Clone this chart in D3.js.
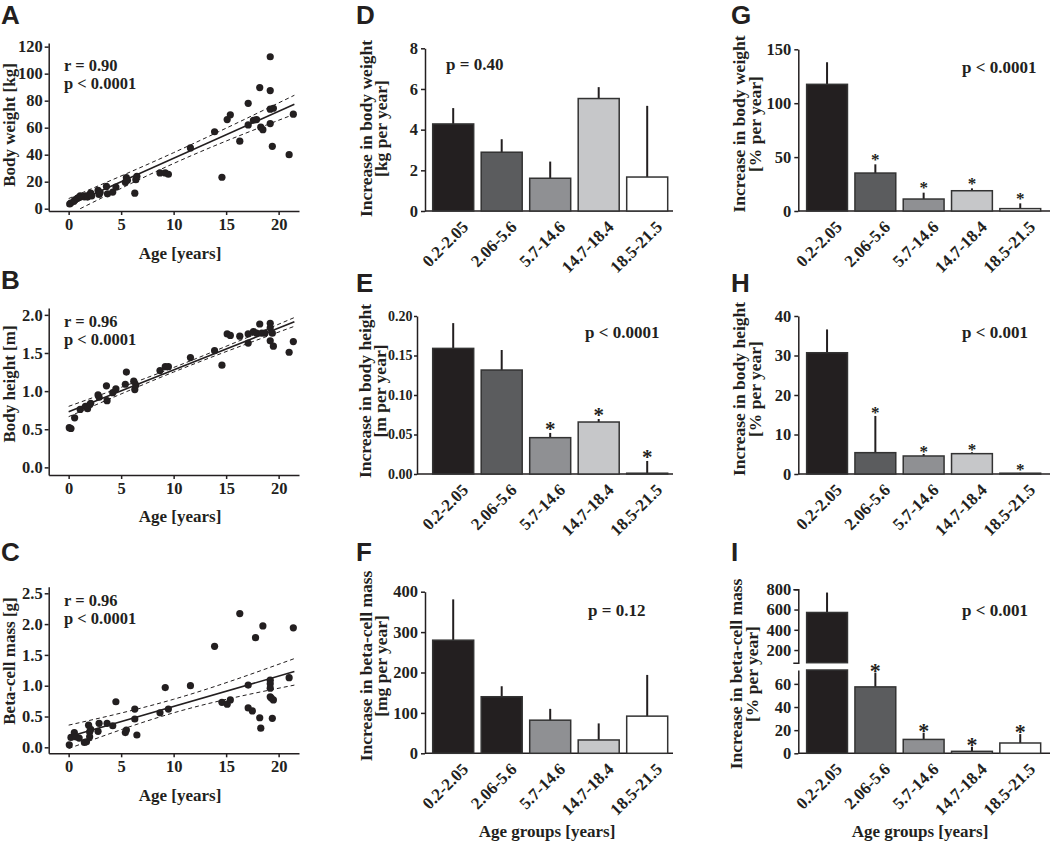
<!DOCTYPE html>
<html><head><meta charset="utf-8">
<script src="https://cdn.jsdelivr.net/npm/d3@7"></script>
<style>
body{margin:0;background:#fff;}
svg{display:block;}
text{font-family:'Liberation Serif','Times New Roman',serif;font-weight:bold;fill:#231f20;}
.letter{font-family:'Liberation Sans',Arial,sans-serif;font-weight:bold;font-size:26px;}
</style></head>
<body>
<svg id="fig" width="1050" height="841"></svg>
<script>
// ---------------- DATA ----------------
// Panel A: age [years] vs body weight [kg]
const ageA = [0.1,0.2,0.5,0.6,0.8,1.0,1.1,1.5,1.6,1.8,2.0,2.1,2.2,2.8,2.9,3.0,3.6,3.7,4.2,4.5,5.4,5.5,5.6,6.3,6.4,6.5,8.7,9.2,9.5,11.6,13.9,14.6,15.1,15.4,16.3,17.1,17.1,17.6,17.9,18.2,18.3,18.5,19.2,19.2,19.2,19.2,19.4,19.5,21.0,21.4];
const weightA = [3.5,4.2,5.5,6.5,7.5,8.5,9.5,8.8,9.6,8.6,10.5,11.5,9.5,13.5,10.5,12.0,16.5,11.0,12.3,16.0,19.5,23.0,21.0,11.5,21.5,24.0,26.5,26.5,25.5,45,57,23.3,66,69.5,50,78,62,65.5,66,89.7,60.4,58.5,112.5,87.5,73.7,63,46.2,74.4,40,70];
const fitA = [[0,2.5],[21.5,77.4]];
const upperA = [[0,7.5],[10,41.5],[21.5,84]];
const lowerA = [[1.1,0],[10,33.5],[21.5,70]];
const statsA = ["r = 0.90","p < 0.0001"];
const ticksAy = [0,20,40,60,80,100,120];

// Panel B: age vs body height [m]
const ageB = [0.06,0.22,0.57,1.1,1.6,1.8,2.0,2.1,2.8,2.9,3.6,3.66,4.2,4.5,5.4,5.5,6.2,6.3,6.4,8.7,9.2,9.5,11.6,13.9,14.6,15.1,15.4,16.3,17.1,17.1,17.6,17.9,18.2,18.4,18.7,19.2,19.2,19.2,19.4,19.5,21.0,21.4];
const heightB = [0.52,0.51,0.65,0.76,0.80,0.77,0.82,0.84,0.95,0.92,1.07,0.875,0.98,1.03,1.09,1.25,1.13,1.02,1.08,1.27,1.32,1.32,1.44,1.53,1.34,1.75,1.73,1.72,1.75,1.63,1.78,1.76,1.88,1.76,1.76,1.89,1.83,1.66,1.76,1.59,1.51,1.65];
const fitB = [[0,0.73],[21.5,1.91]];
const upperB = [[0,0.80],[10,1.31],[21.5,1.965]];
const lowerB = [[0,0.665],[10,1.25],[21.5,1.85]];
const statsB = ["r = 0.96","p < 0.0001"];
const ticksBy = [0,0.5,1.0,1.5,2.0];

// Panel C: age vs beta-cell mass [g]
const ageC = [0.06,0.22,0.54,0.7,1.0,1.5,1.7,1.9,2.0,2.0,2.1,2.8,2.9,3.66,4.2,4.5,5.4,5.5,6.3,6.3,6.5,8.7,9.2,9.5,11.6,13.9,14.6,15.1,15.4,16.3,17.1,17.1,17.5,17.8,18.2,18.3,18.5,19.2,19.2,19.2,19.2,19.3,19.4,19.5,21.0,21.4];
const massC = [0.04,0.16,0.24,0.17,0.15,0.08,0.09,0.36,0.25,0.17,0.29,0.26,0.39,0.39,0.35,0.74,0.24,0.28,0.62,0.46,0.20,0.56,0.97,0.62,1.0,1.64,0.73,0.70,0.77,2.17,1.01,0.64,0.59,1.78,0.48,0.31,1.97,1.09,1.03,0.96,0.82,0.80,0.47,0.77,1.13,1.94];
const fitC = [[0,0.17],[21.5,1.23]];
const upperC = [[0,0.36],[10,0.78],[21.5,1.44]];
const lowerC = [[0,-0.02],[10,0.56],[21.5,1.01]];
const statsC = ["r = 0.96","p < 0.0001"];
const ticksCy = [0,0.5,1.0,1.5,2.0,2.5];
const ageTicks = [0,5,10,15,20];

// Bar panels
const groups = ["0.2-2.05","2.06-5.6","5.7-14.6","14.7-18.4","18.5-21.5"];
const valD = [4.28,2.89,1.61,5.53,1.67];
const errD = [5.06,3.53,2.43,6.09,5.17];
const starD = [false,false,false,false,false];
const valE = [0.159,0.1316,0.046,0.0658,0.001];
const errE = [0.191,0.157,0.052,0.0696,0.0165];
const starE = [false,false,true,true,true];
const valF = [280,140,82,33,92];
const errF = [381,166,110,74,194];
const starF = [false,false,false,false,false];
const valG = [117.5,35.2,11.1,18.8,2.2];
const errG = [138,43.3,17,21,7.1];
const starG = [false,true,true,true,true];
const valH = [30.7,5.4,4.56,5.15,0.2];
const errH = [36.6,14.7,5.06,5.5,0.3];
const starH = [false,true,true,true,true];
const valI = [571,57.4,12,1.7,8.9];
const errI = [768,69.8,17.8,5.7,16.6];
const starI = [false,true,true,true,true];
const ticksD = [0,2,4,6,8];
const ticksE = [0,0.05,0.10,0.15,0.20];
const ticksF = [0,100,200,300,400];
const ticksG = [0,50,100,150];
const ticksH = [0,10,20,30,40];
const ticksIlow = [0,20,40,60];
const ticksIup = [200,400,600,800];

// styles
const barColors = ["#231f20","#5b5c5e","#8f9093","#c6c7c9","#ffffff"];
const barColorsF = ["#231f20","#231f20","#8f9093","#c6c7c9","#ffffff"];
const ink = "#231f20";

// ---------------- DRAW ----------------
const svg = d3.select("#fig");

function letter(t,x,y){ svg.append("text").attr("class","letter").attr("x",x).attr("y",y).text(t); }

function styleAxis(g,fs){
  g.selectAll("path,line").attr("stroke",ink).attr("stroke-width",1.5);
  g.selectAll("text").style("font-size",(fs||16)+"px").attr("fill",ink);
}

function scatter(o){
  const g = svg.append("g");
  const x = d3.scaleLinear().domain([-1.9,21.94]).range([o.xLeft,o.xLeft+250.3]);
  const y = d3.scaleLinear().domain(o.yDom).range(o.yRange);
  const ax = g.append("g").attr("transform",`translate(0,${o.yRange[0]})`)
    .call(d3.axisBottom(x).tickValues(ageTicks).tickSize(4).tickSizeOuter(0).tickPadding(3));
  styleAxis(ax,16.5);
  const ay = g.append("g").attr("transform",`translate(${o.xLeft},0)`)
    .call(d3.axisLeft(y).tickValues(o.yTicks).tickSize(4).tickSizeOuter(0).tickPadding(2).tickFormat(o.fmt));
  styleAxis(ay,16.5);
  const line = d3.line().x(d=>x(d[0])).y(d=>y(d[1]));
  const dline = d3.line().curve(d3.curveMonotoneX).x(d=>x(d[0])).y(d=>y(d[1]));
  g.append("path").attr("d",dline(o.up)).attr("fill","none").attr("stroke",ink).attr("stroke-width",1).attr("stroke-dasharray","4,3");
  g.append("path").attr("d",dline(o.lo)).attr("fill","none").attr("stroke",ink).attr("stroke-width",1).attr("stroke-dasharray","4,3");
  g.append("path").attr("d",line(o.fit)).attr("fill","none").attr("stroke",ink).attr("stroke-width",1.6);
  g.selectAll("circle.pt").data(d3.zip(o.xs,o.ys)).join("circle")
    .attr("cx",d=>x(d[0])).attr("cy",d=>y(d[1])).attr("r",3.6).attr("fill",ink);
  g.append("text").attr("x",64).attr("y",o.statY-1).style("font-size","16.5px").text(o.stats[0]);
  g.append("text").attr("x",64).attr("y",o.statY+17).style("font-size","16.5px").text(o.stats[1]);
  g.append("text").attr("x",180).attr("y",o.titleY).attr("text-anchor","middle").style("font-size","17px").text("Age [years]");
  g.append("text").attr("transform",`translate(14.5,${o.labY}) rotate(-90)`).attr("text-anchor","middle").style("font-size","17px").text(o.ylab);
}

scatter({xLeft:48.7,yDom:[-1.7,122.7],yRange:[211,43],yTicks:ticksAy,fmt:d3.format("d"),
  xs:ageA,ys:weightA,fit:fitA,up:upperA,lo:lowerA,stats:statsA,statY:71.7,titleY:258.5,labY:125,ylab:"Body weight [kg]"});
scatter({xLeft:48.7,yDom:[-0.1,2.09],yRange:[475,308],yTicks:ticksBy,fmt:d3.format(".1f"),
  xs:ageB,ys:heightB,fit:fitB,up:upperB,lo:lowerB,stats:statsB,statY:328.3,titleY:521.5,labY:384,ylab:"Body height [m]"});
scatter({xLeft:48.7,yDom:[-0.097,2.607],yRange:[753.3,586.7],yTicks:ticksCy,fmt:d3.format(".1f"),
  xs:ageC,ys:massC,fit:fitC,up:upperC,lo:lowerC,stats:statsC,statY:607.3,titleY:800.5,labY:661,ylab:"Beta-cell mass [g]"});

function bars(o){
  const g = svg.append("g");
  const x = d3.scaleBand().domain(groups).range(o.band).paddingInner(0.1546).paddingOuter(0.0773);
  const y = d3.scaleLinear().domain(o.yDom).range(o.yRange);
  const base = o.yRange[0];
  g.append("line").attr("x1",o.yAxisX).attr("x2",o.xEnd).attr("y1",base).attr("y2",base).attr("stroke",ink).attr("stroke-width",1.5);
  const ay = g.append("g").attr("transform",`translate(${o.yAxisX},0)`)
    .call(d3.axisLeft(y).tickValues(o.ticks).tickSize(o.tickLen||4).tickSizeOuter(0).tickPadding(o.tickPad||3).tickFormat(o.fmt));
  styleAxis(ay,o.tickFs);
  const rows = groups.map((c,i)=>({c,v:o.val[i],e:o.err[i],s:o.star[i],col:o.colors[i]}));
  g.selectAll("line.err").data(rows).join("line")
    .attr("x1",d=>x(d.c)+x.bandwidth()/2).attr("x2",d=>x(d.c)+x.bandwidth()/2)
    .attr("y1",d=>y(d.v)).attr("y2",d=>y(d.e)).attr("stroke",ink).attr("stroke-width",2);
  g.selectAll("rect.bar").data(rows).join("rect")
    .attr("x",d=>x(d.c)).attr("width",x.bandwidth())
    .attr("y",d=>y(d.v)).attr("height",d=>Math.max(0.5,base-y(d.v)))
    .attr("fill",d=>d.col).attr("stroke","#333").attr("stroke-width",1.5);
  g.selectAll("text.star").data(rows.filter(d=>d.s)).join("text")
    .attr("x",d=>x(d.c)+x.bandwidth()/2).attr("y",d=>y(d.e)+o.starDy).attr("text-anchor","middle")
    .style("font-size",o.starSize+"px").text("*");
  g.selectAll("text.cat").data(groups).join("text")
    .attr("transform",d=>`translate(${x(d)+x.bandwidth()/2+16},${base+17}) rotate(-45)`)
    .attr("text-anchor","end").style("font-size","17px").text(d=>d);
  g.append("text").attr("x",o.pX).attr("y",o.pY).style("font-size","17px").text(o.p);
  g.append("text").attr("transform",`translate(${o.labX[0]},${o.labY}) rotate(-90)`).attr("text-anchor","middle").style("font-size","17.5px").text(o.lab[0]);
  g.append("text").attr("transform",`translate(${o.labX[1]},${o.labY}) rotate(-90)`).attr("text-anchor","middle").style("font-size","17.5px").text(o.lab[1]);
  if(o.xtitle) g.append("text").attr("x",o.xtitleX).attr("y",836.5).attr("text-anchor","middle").style("font-size","17px").text(o.xtitle);
}

const bandMid = [428.95,671.45];
const bandRight = [802.9,1044.4];

bars({band:bandMid,yAxisX:425,xEnd:673,yDom:[0,8],yRange:[211,48.3],ticks:ticksD,fmt:d3.format("d"),tickFs:16.5,
  val:valD,err:errD,star:starD,colors:barColors,starDy:0,starSize:20,p:"p = 0.40",pX:446,pY:70,
  lab:["Increase in body weight","[kg per year]"],labX:[371.5,386.5],labY:128.5});
bars({band:bandMid,yAxisX:417,xEnd:673,yDom:[0,0.2],yRange:[474,316],ticks:ticksE,fmt:d3.format(".2f"),tickFs:14,tickLen:3,tickPad:1.5,
  val:valE,err:errE,star:starE,colors:barColors,starDy:3,starSize:21,p:"p < 0.0001",pX:585,pY:337.5,
  lab:["Increase in body height","[m per year]"],labX:[371,386],labY:391});
bars({band:bandMid,yAxisX:425,xEnd:673,yDom:[0,400],yRange:[753.3,591.7],ticks:ticksF,fmt:d3.format("d"),tickFs:16.5,
  val:valF,err:errF,star:starF,colors:barColorsF,starDy:0,starSize:20,p:"p = 0.12",pX:588,pY:616,
  lab:["Increase in beta-cell mass","[mg per year]"],labX:[372,387],labY:666,xtitle:"Age groups [years]",xtitleX:547});
bars({band:bandRight,yAxisX:798.3,xEnd:1050,yDom:[0,150],yRange:[211,49.3],ticks:ticksG,fmt:d3.format("d"),tickFs:16.5,
  val:valG,err:errG,star:starG,colors:barColors,starDy:0.5,starSize:17,p:"p < 0.0001",pX:962,pY:72.5,
  lab:["Increase in body weight","[% per year]"],labX:[745,761],labY:124});
bars({band:bandRight,yAxisX:798.3,xEnd:1050,yDom:[0,40],yRange:[474,316],ticks:ticksH,fmt:d3.format("d"),tickFs:16.5,
  val:valH,err:errH,star:starH,colors:barColors,starDy:2.5,starSize:17,p:"p < 0.001",pX:962,pY:337.5,
  lab:["Increase in body height","[% per year]"],labX:[745,761],labY:389});

// Panel I with broken axis
(function(){
  const g = svg.append("g");
  const x = d3.scaleBand().domain(groups).range(bandRight).paddingInner(0.1546).paddingOuter(0.0773);
  const yLo = d3.scaleLinear().domain([0,72]).range([753.3,670]);
  const yUp = d3.scaleLinear().domain([75,800]).range([662.7,589.3]);
  const base = 753.3, axX = 798.3;
  g.append("line").attr("x1",axX).attr("x2",1050).attr("y1",base).attr("y2",base).attr("stroke",ink).attr("stroke-width",1.5);
  styleAxis(g.append("g").attr("transform",`translate(${axX},0)`).call(d3.axisLeft(yLo).tickValues(ticksIlow).tickSize(4).tickSizeOuter(0).tickPadding(3)),16.5);
  styleAxis(g.append("g").attr("transform",`translate(${axX},0)`).call(d3.axisLeft(yUp).tickValues(ticksIup).tickSize(4).tickSizeOuter(5).tickPadding(3)),16.5);
  const rows = groups.map((c,i)=>({c,i,v:valI[i],e:errI[i],s:starI[i],col:barColors[i]}));
  const cx = d=>x(d.c)+x.bandwidth()/2;
  const yv = d=> d.v>72 ? yUp(d.v) : yLo(d.v);
  const ye = d=> d.e>72 ? yUp(d.e) : yLo(d.e);
  g.selectAll("line.err").data(rows).join("line").attr("x1",cx).attr("x2",cx)
    .attr("y1",yv).attr("y2",ye).attr("stroke",ink).attr("stroke-width",2);
  g.selectAll("rect.lo").data(rows).join("rect")
    .attr("x",d=>x(d.c)).attr("width",x.bandwidth())
    .attr("y",d=>yLo(Math.min(d.v,72))).attr("height",d=>Math.max(0.5,base-yLo(Math.min(d.v,72))))
    .attr("fill",d=>d.col).attr("stroke","#333").attr("stroke-width",1.5);
  g.selectAll("rect.up").data(rows.filter(d=>d.v>72)).join("rect")
    .attr("x",d=>x(d.c)).attr("width",x.bandwidth())
    .attr("y",d=>yUp(d.v)).attr("height",d=>yUp(75)-yUp(d.v))
    .attr("fill",d=>d.col).attr("stroke","#333").attr("stroke-width",1.5);
  g.selectAll("text.star").data(rows.filter(d=>d.s)).join("text")
    .attr("x",cx).attr("y",d=>ye(d)+5).attr("text-anchor","middle").style("font-size","22px").text("*");
  g.selectAll("text.cat").data(groups).join("text")
    .attr("transform",d=>`translate(${x(d)+x.bandwidth()/2+16},${base+17}) rotate(-45)`)
    .attr("text-anchor","end").style("font-size","17px").text(d=>d);
  g.append("text").attr("x",962).attr("y",616).style("font-size","17px").text("p < 0.001");
  g.append("text").attr("transform",`translate(742,674) rotate(-90)`).attr("text-anchor","middle").style("font-size","17.5px").text("Increase in beta-cell mass");
  g.append("text").attr("transform",`translate(758,674) rotate(-90)`).attr("text-anchor","middle").style("font-size","17.5px").text("[% per year]");
  g.append("text").attr("x",920).attr("y",836.5).attr("text-anchor","middle").style("font-size","17px").text("Age groups [years]");
})();

letter("A",1,24); letter("B",1,289); letter("C",1,561);
letter("D",356,24); letter("E",356,292); letter("F",356,561);
letter("G",731,24); letter("H",731,292); letter("I",731,561);
</script>
</body></html>
